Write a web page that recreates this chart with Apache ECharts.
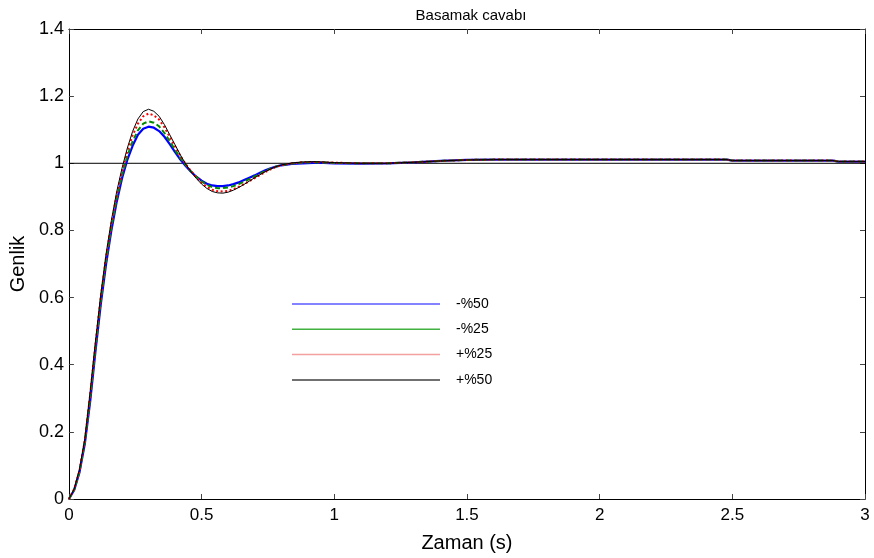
<!DOCTYPE html>
<html>
<head>
<meta charset="utf-8">
<script src="https://cdn.jsdelivr.net/npm/echarts@6/dist/echarts.min.js"></script>
<style>html,body{margin:0;padding:0;background:#fff}#c{width:874px;height:558px}</style>
</head>
<body>
<div id="c"></div>
<script>
var time = [0,0.02,0.04,0.06,0.08,0.10,0.12,0.14,0.16,0.18,0.20,0.22,0.24,0.26,0.28,0.30,0.32,0.34,0.36,0.38,0.40,0.42,0.44,0.46,0.48,0.50,0.52,0.54,0.56,0.58,0.60,0.62,0.64,0.66,0.68,0.70,0.72,0.74,0.76,0.78,0.80,0.84,0.88,0.92,0.96,1.0,1.1,1.2,1.3,1.4,1.5,1.6,2.0,2.48,2.5,2.88,2.9,3.0];
var minus50 = [0,0.027,0.08,0.165,0.29,0.44,0.58,0.70,0.80,0.885,0.955,1.01,1.052,1.085,1.103,1.109,1.106,1.096,1.079,1.057,1.033,1.011,0.992,0.975,0.96,0.948,0.939,0.934,0.932,0.932,0.934,0.938,0.943,0.95,0.957,0.964,0.972,0.979,0.985,0.99,0.994,0.998,1.0,1.001,1.001,1.0,0.999,1.0,1.003,1.007,1.01,1.011,1.011,1.011,1.008,1.008,1.005,1.005];
var minus25 = [0,0.028,0.082,0.17,0.30,0.45,0.59,0.71,0.81,0.895,0.965,1.022,1.065,1.098,1.118,1.125,1.121,1.11,1.09,1.066,1.04,1.016,0.995,0.976,0.96,0.946,0.936,0.929,0.926,0.926,0.928,0.932,0.938,0.945,0.953,0.961,0.969,0.977,0.984,0.99,0.994,0.999,1.002,1.003,1.002,1.001,1.0,1.0,1.003,1.007,1.01,1.011,1.011,1.011,1.008,1.008,1.005,1.005];
var plus25 = [0,0.03,0.085,0.175,0.31,0.46,0.60,0.72,0.82,0.905,0.975,1.035,1.083,1.118,1.14,1.148,1.143,1.13,1.107,1.078,1.05,1.022,0.998,0.977,0.958,0.942,0.93,0.921,0.917,0.916,0.918,0.923,0.93,0.938,0.947,0.956,0.965,0.974,0.982,0.989,0.994,1.0,1.003,1.004,1.003,1.002,1.0,1.0,1.003,1.007,1.01,1.011,1.011,1.011,1.008,1.008,1.005,1.005];
var plus50 = [0,0.03,0.09,0.18,0.32,0.47,0.61,0.73,0.83,0.915,0.985,1.045,1.095,1.132,1.154,1.161,1.155,1.14,1.115,1.085,1.055,1.025,0.998,0.975,0.955,0.938,0.925,0.916,0.912,0.911,0.914,0.92,0.928,0.937,0.947,0.957,0.966,0.975,0.983,0.99,0.995,1.001,1.004,1.005,1.004,1.002,1.0,1.0,1.003,1.007,1.01,1.011,1.011,1.011,1.008,1.008,1.005,1.005];
var refX = [0, 3];
var refY = [1, 1];
var seriesNames = ['-%50', '-%25', '+%25', '+%50'];
var xTicks = [0, 0.5, 1, 1.5, 2, 2.5, 3];
var yTicks = [0, 0.2, 0.4, 0.6, 0.8, 1, 1.2, 1.4];

function pairs(xs, ys) { return xs.map(function (x, i) { return [x, ys[i]]; }); }

var FONT = 'Liberation Sans';
var chart = echarts.init(document.getElementById('c'), null, {renderer: 'canvas'});
var axisCommon = {
  axisLine: {show: true, onZero: false, lineStyle: {color: '#000', width: 1}},
  axisTick: {show: true, inside: true, length: 5, lineStyle: {color: '#444'}},
  splitLine: {show: false}
};
chart.setOption({
  animation: false,
  backgroundColor: '#fff',
  title: {
    text: 'Basamak cavabı', left: 466, top: 3, textAlign: 'center',
    textStyle: {fontFamily: FONT, fontSize: 15, fontWeight: 'normal', color: '#000'}
  },
  grid: {left: 68, right: 9, top: 29, bottom: 57, containLabel: false},
  legend: {
    orient: 'vertical', left: 292, top: 296, padding: 0,
    itemWidth: 148, itemHeight: 1.5, itemGap: 9.3, icon: 'rect',
    textStyle: {fontFamily: FONT, fontSize: 14, color: '#000', lineHeight: 16, padding: [0, 0, 0, 11]},
    data: [
      {name: seriesNames[0], itemStyle: {color: '#5a5aff'}},
      {name: seriesNames[1], itemStyle: {color: '#40b040'}},
      {name: seriesNames[2], itemStyle: {color: '#f4a0a0'}},
      {name: seriesNames[3], itemStyle: {color: '#404040'}}
    ]
  },
  xAxis: [
    Object.assign({
      type: 'value', min: 0, max: 3, interval: 0.5, position: 'bottom',
      name: 'Zaman (s)', nameLocation: 'middle', nameGap: 34,
      nameTextStyle: {fontFamily: FONT, fontSize: 20, color: '#000'},
      axisLabel: {fontFamily: FONT, fontSize: 17, color: '#000', margin: 8,
        formatter: function (v) { return xTicks.indexOf(v) >= 0 ? String(v) : ''; }}
    }, axisCommon),
    Object.assign({
      type: 'value', min: 0, max: 3, interval: 0.5, position: 'top',
      axisLabel: {show: false}
    }, axisCommon)
  ],
  yAxis: [
    Object.assign({
      type: 'value', min: 0, max: 1.4, interval: 0.2, position: 'left',
      name: 'Genlik', nameLocation: 'middle', nameGap: 37,
      nameTextStyle: {fontFamily: FONT, fontSize: 20, color: '#000'},
      axisLabel: {fontFamily: FONT, fontSize: 18, color: '#000', margin: 5,
        formatter: function (v) { var r = Math.round(v * 10) / 10; return yTicks.indexOf(r) >= 0 ? String(r) : ''; }}
    }, axisCommon),
    Object.assign({
      type: 'value', min: 0, max: 1.4, interval: 0.2, position: 'right',
      axisLabel: {show: false}
    }, axisCommon)
  ],
  series: [
    {name: 'ref', type: 'line', data: pairs(refX, refY), symbol: 'none', silent: true,
      lineStyle: {color: '#000', width: 1}, z: 1},
    {name: seriesNames[0], type: 'line', data: pairs(time, minus50), symbol: 'none', color: '#0000ff',
      lineStyle: {color: '#0000ff', width: 2.2, type: 'solid'}, z: 2},
    {name: seriesNames[1], type: 'line', data: pairs(time, minus25), symbol: 'none', color: '#008a00',
      lineStyle: {color: '#008a00', width: 2, type: [5, 3]}, z: 3},
    {name: seriesNames[2], type: 'line', data: pairs(time, plus25), symbol: 'none', color: '#ff0000',
      lineStyle: {color: '#ff0000', width: 2, type: [2, 2.5]}, z: 4},
    {name: seriesNames[3], type: 'line', data: pairs(time, plus50), symbol: 'none', color: '#000000',
      lineStyle: {color: '#000', width: 1, type: 'solid'}, z: 5}
  ]
});
</script>
</body>
</html>
